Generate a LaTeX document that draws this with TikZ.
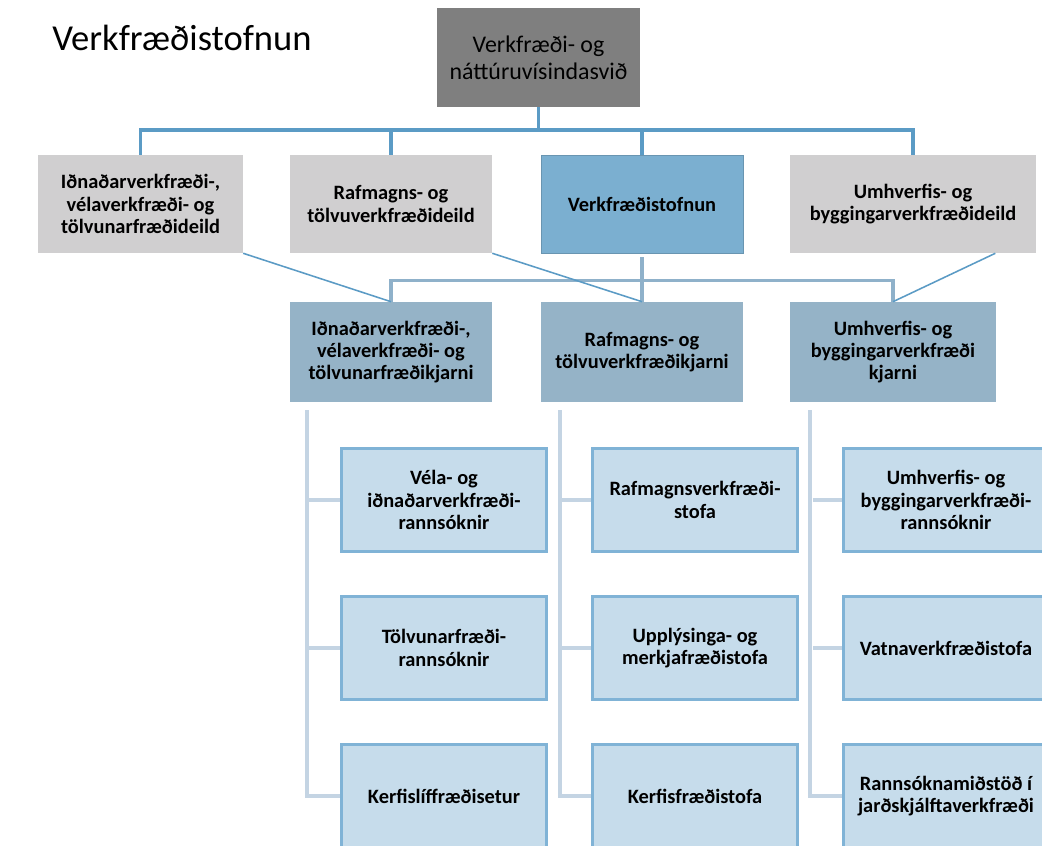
\documentclass[tikz,border=0pt]{standalone}
\usepackage{fontspec}
\setmainfont{Carlito}
\usetikzlibrary{calc}

\definecolor{rootgray}{HTML}{7F7F7F}
\definecolor{deptgray}{HTML}{D0CFD0}
\definecolor{instblue}{HTML}{7BAFD0}
\definecolor{coreblue}{HTML}{95B3C7}
\definecolor{leaffill}{HTML}{C6DCEB}
\definecolor{leafline}{HTML}{80B3D6}
\definecolor{busblue}{HTML}{5B9BC5}
\definecolor{buslight}{HTML}{8FB1CA}
\definecolor{branchgray}{HTML}{C4D4E3}

\tikzset{
  box/.style={inner sep=0pt, align=center, text=black,
    font=\fontsize{14.5}{15.8}\selectfont\bfseries},
  rootbox/.style={box, fill=rootgray, minimum width=5.08cm, minimum height=2.48cm,
    font=\fontsize{17}{19.4}\selectfont},
  deptbox/.style={box, fill=deptgray, minimum width=5.05cm, minimum height=2.45cm},
  instbox/.style={box, fill=instblue, draw=instblue!85!black, line width=0.5pt,
    minimum width=5.05cm, minimum height=2.45cm},
  corebox/.style={box, fill=coreblue, minimum width=5.05cm, minimum height=2.5cm},
  leafbox/.style={box, fill=leaffill, draw=leafline, line width=2pt,
    minimum width=5.13cm, minimum height=2.58cm},
  topline/.style={draw=busblue, line width=2.8pt},
  midline/.style={draw=buslight, line width=2.2pt},
  slantline/.style={draw=busblue, line width=1.1pt},
  branch/.style={draw=branchgray, line width=2.8pt}
}

\begin{document}
\begin{tikzpicture}[x=0.025cm, y=-0.025cm]

% Frame
\useasboundingbox (0,0) rectangle (1042,846);
\clip (0,0) rectangle (1042,846);
\fill[white] (0,0) rectangle (1042,846);

% Title
\node[anchor=west, inner sep=0pt, font=\fontsize{26}{30}\selectfont] (title) at (52,38) {Verkfræðistofnun};

% Root
\node[rootbox] (root) at (538.5,57.5) {Verkfræði- og\\náttúruvísindasvið};

% Departments
\node[deptbox, minimum width=5.12cm] (depA) at (140.5,204) {Iðnaðarverkfræði-,\\vélaverkfræði- og\\tölvunarfræðideild};
\node[deptbox] (depB) at (391,204) {Rafmagns- og\\tölvuverkfræðideild};
\node[instbox] (inst) at (642,204) {Verkfræðistofnun};
\node[deptbox, minimum width=6.15cm] (depD) at (913,204) {Umhverfis- og\\byggingarverkfræðideild};

% Cores
\node[corebox] (coreA) at (391,352) {Iðnaðarverkfræði-,\\vélaverkfræði- og\\tölvunarfræðikjarni};
\node[corebox] (coreB) at (642,352) {Rafmagns- og\\tölvuverkfræðikjarni};
\node[corebox, minimum width=5.15cm] (coreC) at (893,352) {Umhverfis- og\\byggingarverkfræði\\kjarni};

% Research units
\node[leafbox] (unitA1) at (444,500) {Véla- og\\iðnaðarverkfræði-\\rannsóknir};
\node[leafbox] (unitA2) at (444,648) {Tölvunarfræði-\\rannsóknir};
\node[leafbox] (unitA3) at (444,796) {Kerfislíffræðisetur};
\node[leafbox] (unitB1) at (695,500) {Rafmagnsverkfræði-\\stofa};
\node[leafbox] (unitB2) at (695,648) {Upplýsinga- og\\merkjafræðistofa};
\node[leafbox] (unitB3) at (695,796) {Kerfisfræðistofa};
\node[leafbox] (unitC1) at (946,500) {Umhverfis- og\\byggingarverkfræði-\\rannsóknir};
\node[leafbox] (unitC2) at (946,648) {Vatnaverkfræðistofa};
\node[leafbox] (unitC3) at (946,796) {Rannsóknamiðstöð í\\jarðskjálftaverkfræði};

% Root to departments
\draw[topline] (root.south) -- ++(0,23);
\draw[topline] (depA.north) -- ++(0,-25) -| (depD.north);
\draw[topline] (depB.north) -- ++(0,-25);
\draw[topline] (inst.north) -- ++(0,-25);

% Institute to cores
\draw[midline] ([yshift=-0.1cm]inst.south) -- ++(0,24);
\draw[midline] (coreA.north) -- ++(0,-21) -| (coreC.north);
\draw[midline] (coreB.north) -- ++(0,-21);

% Departments to cores
\draw[slantline] (depA.south east) -- (coreA.north);
\draw[slantline] (depB.south east) -- (coreB.north);
\draw[slantline] ($(depD.south east)+(-41,0)$) -- (coreC.north);

% Cores to units
\draw[branch] (coreA.south west) ++(17,8) |- (unitA3.west);
\draw[branch] (unitA1.west) -- ++(-33,0);
\draw[branch] (unitA2.west) -- ++(-33,0);
\draw[branch] (coreB.south west) ++(19,8) |- (unitB3.west);
\draw[branch] (unitB1.west) -- ++(-32,0);
\draw[branch] (unitB2.west) -- ++(-32,0);
\draw[branch] (coreC.south west) ++(20,8) |- (unitC3.west);
\draw[branch] (unitC1.west) -- ++(-29,0);
\draw[branch] (unitC2.west) -- ++(-29,0);

\end{tikzpicture}
\end{document}
